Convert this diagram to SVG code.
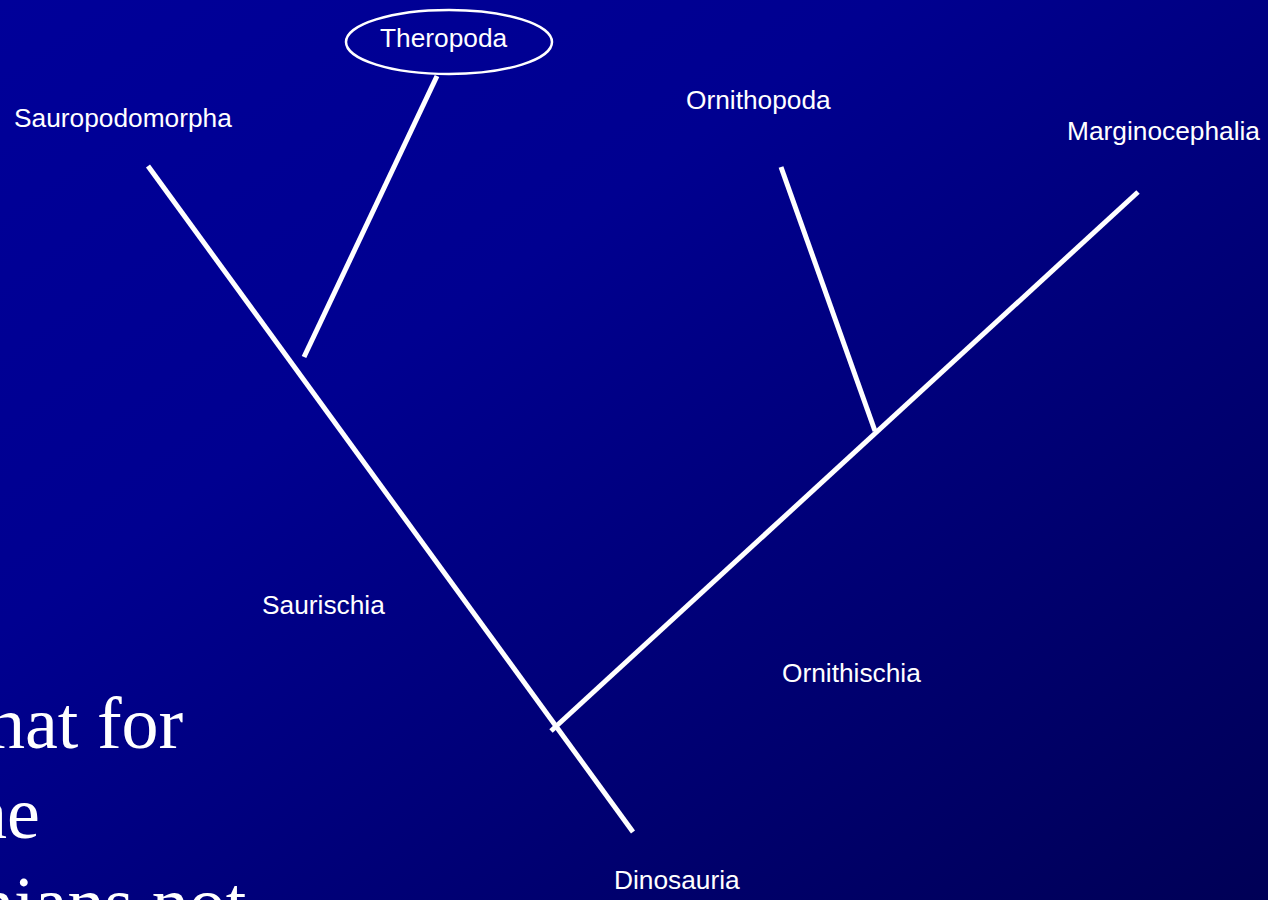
<svg xmlns="http://www.w3.org/2000/svg" width="1268" height="900" viewBox="0 0 1268 900">
<defs>
<linearGradient id="bg" x1="0" y1="0" x2="1" y2="1">
<stop offset="0" stop-color="#000099"/>
<stop offset="0.35" stop-color="#000090"/>
<stop offset="1" stop-color="#000056"/>
</linearGradient>
<style>
.lbl{font-family:"Liberation Sans",Arial,sans-serif;font-size:26.3px;fill:#ffffff}
.big{font-family:"Liberation Serif","Times New Roman",serif;font-size:74px;fill:#ffffff}
.br{stroke:#ffffff;stroke-width:5;fill:none;stroke-linecap:butt}
</style>
</defs>
<rect x="0" y="0" width="1268" height="900" fill="url(#bg)"/>
<g id="bodytext">
<text class="big" x="-12" y="748">hat for</text>
<text class="big" x="-30" y="838">he</text>
<text class="big" x="-23" y="928">nians not</text>
</g>
<g id="connectors">
<line class="br" x1="148" y1="166" x2="633" y2="832"/>
<line class="br" x1="437" y1="76" x2="304" y2="357"/>
<line class="br" x1="551" y1="731" x2="1138" y2="192"/>
<line class="br" x1="781" y1="167" x2="875" y2="431"/>
</g>
<g id="theropoda">
<ellipse cx="449" cy="42" rx="103" ry="32" fill="none" stroke="#ffffff" stroke-width="2.5"/>
<text class="lbl" x="380" y="47">Theropoda</text>
</g>
<g id="sauropodomorpha"><text class="lbl" x="14" y="127">Sauropodomorpha</text></g>
<g id="ornithopoda"><text class="lbl" x="686" y="109">Ornithopoda</text></g>
<g id="marginocephalia"><text class="lbl" x="1067" y="140">Marginocephalia</text></g>
<g id="saurischia"><text class="lbl" x="262" y="614">Saurischia</text></g>
<g id="ornithischia"><text class="lbl" x="782" y="682">Ornithischia</text></g>
<g id="dinosauria"><text class="lbl" x="614" y="889">Dinosauria</text></g>
</svg>
